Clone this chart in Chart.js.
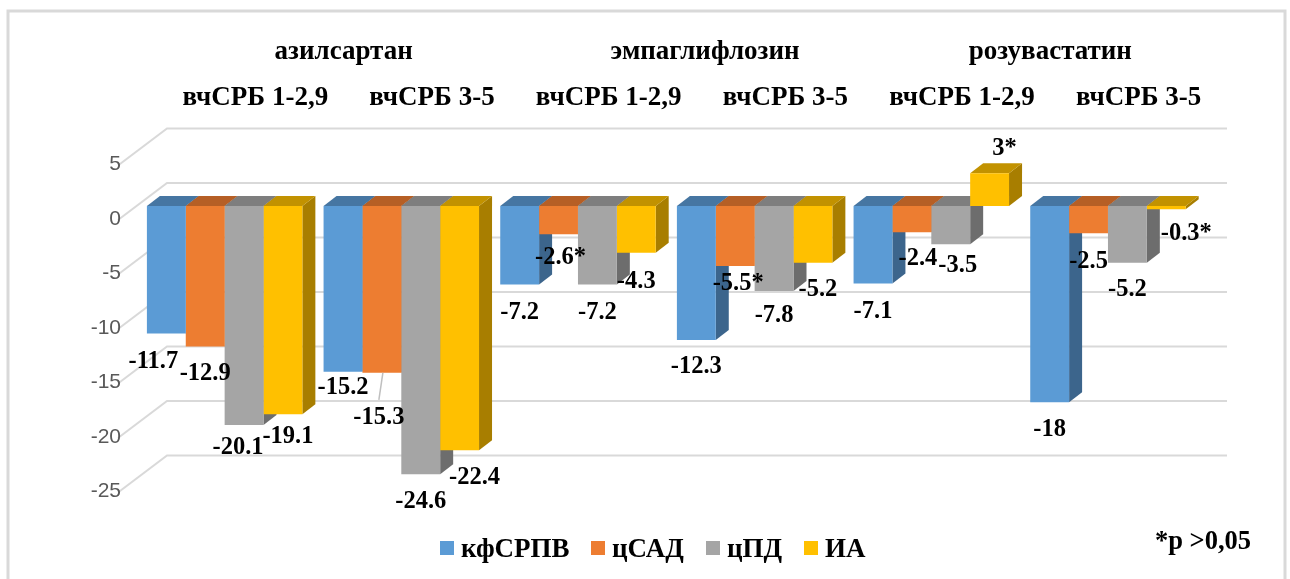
<!DOCTYPE html>
<html>
<head>
<meta charset="utf-8">
<style>
  html, body { margin: 0; padding: 0; background: #fff; }
  #wrap { width: 1290px; height: 579px; }
</style>
<script src="https://cdn.jsdelivr.net/npm/chart.js@4"></script>
</head>
<body>
<div id="wrap"><canvas id="chart" width="1290" height="579"></canvas></div>
<script>
const categories = ['вчСРБ 1-2,9', 'вчСРБ 3-5', 'вчСРБ 1-2,9', 'вчСРБ 3-5', 'вчСРБ 1-2,9', 'вчСРБ 3-5'];
const drugs = ['азилсартан', 'эмпаглифлозин', 'розувастатин'];
const seriesNames = ['кфСРПВ', 'цСАД', 'цПД', 'ИА'];
const kfSrpv = [-11.7, -15.2, -7.2, -12.3, -7.1, -18];
const cSad = [-12.9, -15.3, -2.6, -5.5, -2.4, -2.5];
const cPd = [-20.1, -24.6, -7.2, -7.8, -3.5, -5.2];
const ia = [-19.1, -22.4, -4.3, -5.2, 3, -0.3];
const yTicks = [5, 0, -5, -10, -15, -20, -25];
const footnote = '*р >0,05';

// values marked with * in the picture: [series, category]
const starred = [[1, 2], [1, 3], [3, 4], [3, 5]];

const seriesValues = [kfSrpv, cSad, cPd, ia];
const frontColors = ['#5b9bd5', '#ed7d31', '#a5a5a5', '#ffc000'];
const sideColors = ['#3c658c', '#9c5220', '#6d6d6d', '#a87e00'];
const topColors = ['#4676a2', '#b65f25', '#7e7e7e', '#c29200'];

// hand placed data labels, offset from the end of each bar (like in the original)
const labelNudge = [
  [[-13, 28], [0, 16], [0, 28], [0, 27], [0, 28], [0, 27]],
  [[0, 27], [-3, 45], [2, 23], [3, 18], [6, 27], [0, 28]],
  [[-6, 23], [0, 28], [0, 28], [0, 25], [7, 22], [0, 27]],
  [[5, 22], [15, 28], [0, 29], [5, 27], [15, -25], [20, 24]]
];
const drugNudge = [0, 8, 0];
const legendBoxX = [440, 591, 706, 804];

const serif = '"Liberation Serif", "Times New Roman", serif';
const wallColor = '#d9d9d9';

// bar depth and wall depth, in px
const barDepth = { x: 13, y: 10 };
const backShift = { x: 30.7, y: 23 };
const frontShift = { x: 18.3, y: 14 };

const excel3d = {
  id: 'excel3d',
  beforeDraw(chart) {
    const ctx = chart.ctx;
    ctx.save();
    ctx.fillStyle = '#fff';
    ctx.fillRect(0, 0, chart.width, chart.height);
    ctx.strokeStyle = wallColor;
    ctx.lineWidth = 3;
    ctx.strokeRect(8, 11, 1277, 600);
    ctx.restore();
  },
  beforeDatasetsDraw(chart) {
    const ctx = chart.ctx;
    const y = chart.scales.y;
    const area = chart.chartArea;
    ctx.save();

    // back wall lines and the slanted side wall lines
    ctx.strokeStyle = wallColor;
    ctx.lineWidth = 2;
    y.ticks.forEach(function (t) {
      const py = y.getPixelForValue(t.value);
      ctx.beginPath();
      ctx.moveTo(area.left - frontShift.x, py + frontShift.y);
      ctx.lineTo(area.left + backShift.x, py - backShift.y);
      ctx.lineTo(area.right + backShift.x, py - backShift.y);
      ctx.stroke();
    });

    // tick labels sit at the front end of the side wall
    ctx.fillStyle = '#595959';
    ctx.font = '21px "Liberation Sans", Arial, sans-serif';
    ctx.textAlign = 'right';
    ctx.textBaseline = 'middle';
    y.ticks.forEach(function (t) {
      const py = y.getPixelForValue(t.value);
      ctx.fillText(String(t.value), area.left - frontShift.x + 3, py + frontShift.y - 1);
    });

    // side and top faces of the bars
    const zero = y.getPixelForValue(0);
    chart.data.datasets.forEach(function (ds, s) {
      chart.getDatasetMeta(s).data.forEach(function (bar) {
        const left = bar.x - bar.width / 2;
        const right = bar.x + bar.width / 2;
        const upper = Math.min(bar.y, zero);
        const lower = Math.max(bar.y, zero);
        ctx.fillStyle = sideColors[s];
        ctx.beginPath();
        ctx.moveTo(right, upper);
        ctx.lineTo(right + barDepth.x, upper - barDepth.y);
        ctx.lineTo(right + barDepth.x, lower - barDepth.y);
        ctx.lineTo(right, lower);
        ctx.closePath();
        ctx.fill();
        ctx.fillStyle = topColors[s];
        ctx.beginPath();
        ctx.moveTo(left, upper);
        ctx.lineTo(left + barDepth.x, upper - barDepth.y);
        ctx.lineTo(right + barDepth.x, upper - barDepth.y);
        ctx.lineTo(right, upper);
        ctx.closePath();
        ctx.fill();
      });
    });
    ctx.restore();
  },
  afterDatasetsDraw(chart) {
    const ctx = chart.ctx;
    const x = chart.scales.x;
    ctx.save();
    ctx.fillStyle = '#000';
    ctx.textBaseline = 'middle';
    ctx.textAlign = 'center';

    // headers above the plot
    ctx.font = 'bold 27px ' + serif;
    categories.forEach(function (c, i) {
      ctx.fillText(c, x.getPixelForValue(i) + backShift.x, 98);
    });
    drugs.forEach(function (d, i) {
      const mid = (x.getPixelForValue(i * 2) + x.getPixelForValue(i * 2 + 1)) / 2;
      ctx.fillText(d, mid + backShift.x + drugNudge[i], 52);
    });

    // leader line of the moved -15.3 label
    const moved = chart.getDatasetMeta(1).data[1];
    ctx.strokeStyle = '#bfbfbf';
    ctx.lineWidth = 1.5;
    ctx.beginPath();
    ctx.moveTo(moved.x + 1, moved.y);
    ctx.lineTo(moved.x - 3, moved.y + 27);
    ctx.stroke();

    // data labels
    ctx.font = 'bold 24.5px ' + serif;
    seriesValues.forEach(function (values, s) {
      chart.getDatasetMeta(s).data.forEach(function (bar, i) {
        const star = starred.some(function (p) { return p[0] === s && p[1] === i; });
        const nudge = labelNudge[s][i];
        ctx.fillText(values[i] + (star ? '*' : ''), bar.x + nudge[0], bar.y + nudge[1]);
      });
    });

    // legend, the gap after the swatch is tighter than the library's one
    ctx.font = 'bold 27px ' + serif;
    ctx.textAlign = 'left';
    seriesNames.forEach(function (name, s) {
      ctx.fillStyle = frontColors[s];
      ctx.fillRect(legendBoxX[s], 541, 14, 14);
      ctx.fillStyle = '#000';
      ctx.fillText(name, legendBoxX[s] + 21, 550);
    });

    ctx.font = 'bold 26.5px ' + serif;
    ctx.fillText(footnote, 1155, 542);
    ctx.restore();
  }
};

new Chart(document.getElementById('chart'), {
  type: 'bar',
  data: {
    labels: categories,
    datasets: seriesNames.map(function (name, s) {
      return {
        label: name,
        data: seriesValues[s],
        backgroundColor: frontColors[s],
        borderWidth: 0,
        categoryPercentage: 0.88,
        barPercentage: 1
      };
    })
  },
  options: {
    responsive: false,
    animation: false,
    layout: { padding: { left: 136.3, right: 93.7, top: 151.5, bottom: 100.5 } },
    plugins: {
      tooltip: { enabled: false },
      legend: { display: false }
    },
    scales: {
      x: { display: false },
      y: {
        display: false,
        min: yTicks[yTicks.length - 1],
        max: yTicks[0],
        afterBuildTicks(scale) {
          scale.ticks = yTicks.map(function (v) { return { value: v }; });
        }
      }
    }
  },
  plugins: [excel3d]
});
</script>
</body>
</html>
